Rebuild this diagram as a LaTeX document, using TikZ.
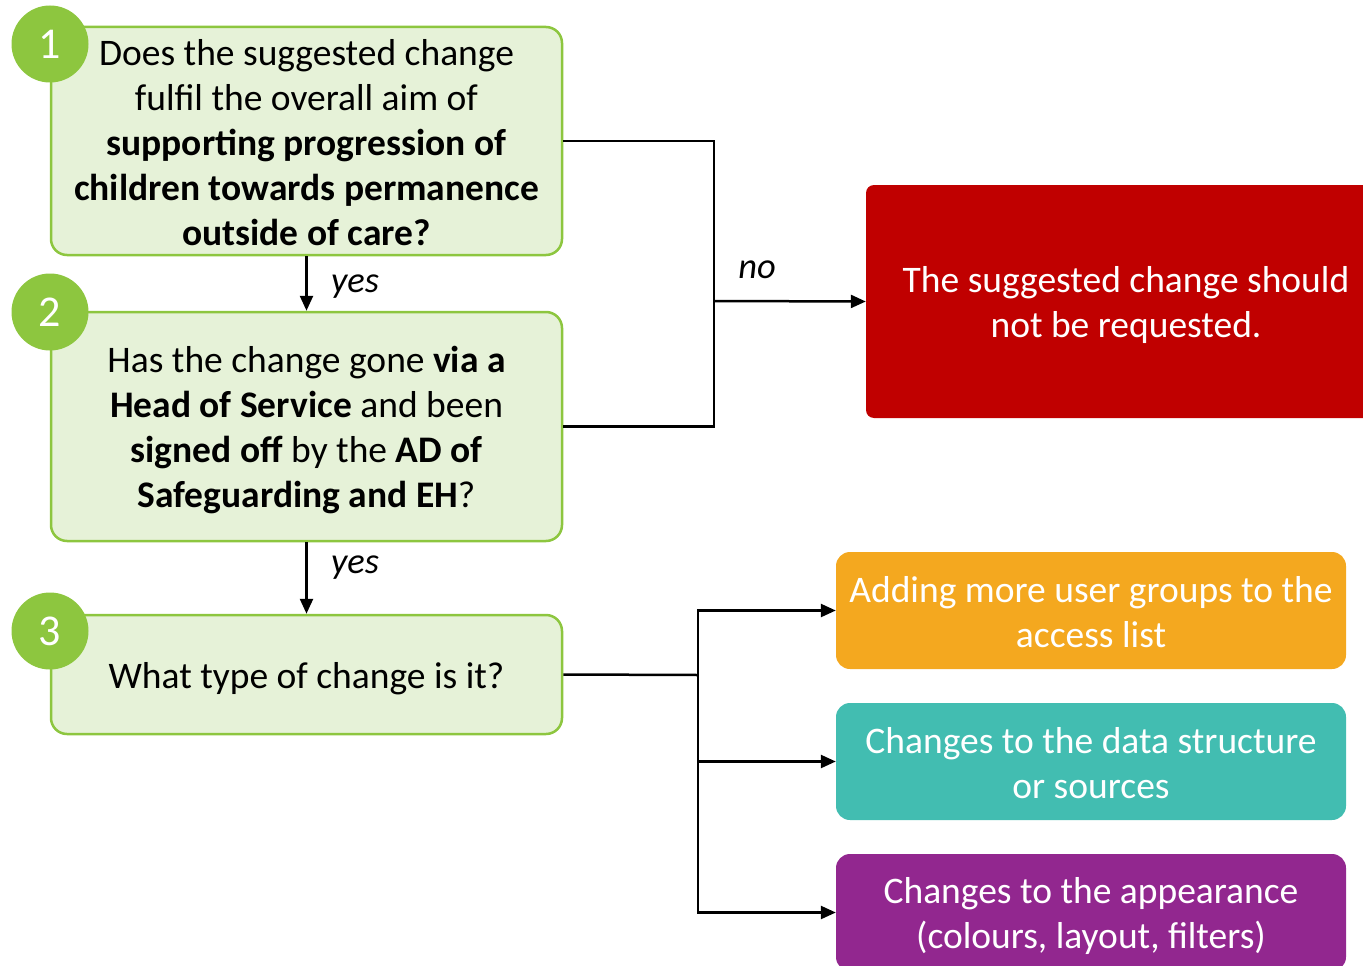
\documentclass[tikz,border=0pt]{standalone}
\usepackage{fontspec}
\setmainfont{Carlito}
\usetikzlibrary{arrows.meta}
\definecolor{gfill}{HTML}{E6F2D8}
\definecolor{gline}{HTML}{8DC63F}
\definecolor{gcirc}{HTML}{8DC63F}
\definecolor{redbox}{HTML}{C00000}
\definecolor{orangebox}{HTML}{F4A81F}
\definecolor{tealbox}{HTML}{42BDB1}
\definecolor{purplebox}{HTML}{92278F}
\newcommand{\shiftedtext}[2]{\raisebox{-#1}[\height][\depth]{\begin{tabular}{@{}c@{}}#2\end{tabular}}}
\tikzset{
  qbox/.style={draw=gline, line width=2.5pt, fill=gfill, rounded corners=16pt, minimum width=511pt, inner sep=0pt, font=\fontsize{37.5}{45}\selectfont},
  numcirc/.style={circle, fill=gcirc, minimum size=77pt, inner sep=0pt, text=white, font=\fontsize{44}{44}\selectfont},
  outbox/.style={rounded corners=14pt, minimum width=510pt, minimum height=117pt, inner sep=0pt, text=white, font=\fontsize{37.5}{45}\selectfont},
  conn/.style={line width=2.5pt, draw=black},
  arr/.style={conn, -{Triangle[length=15pt,width=13pt]}},
  lbl/.style={font=\fontsize{36.5}{40}\selectfont\itshape}
}
\begin{document}
\begin{tikzpicture}[x=1pt,y=-1pt]
\useasboundingbox (0,0) rectangle (1363,966);
\clip (0,0) rectangle (1363,966);
% question boxes
\node[qbox, minimum height=228pt] (q1) at (306.5,141) {\shiftedtext{5pt}{Does the suggested change\\fulfil the overall aim of\\\textbf{supporting progression of}\\\textbf{children towards permanence}\\\textbf{outside of care?}}};
\node[qbox, minimum height=229pt] (q2) at (306.5,426.5) {\shiftedtext{4pt}{Has the change gone \textbf{via a}\\\textbf{Head of Service} and been\\\textbf{signed off} by the \textbf{AD of}\\\textbf{Safeguarding and EH}?}};
\node[qbox, minimum height=119pt] (q3) at (306.5,674.5) {\shiftedtext{4.5pt}{What type of change is it?}};
\node[numcirc] (c1) at (50,44) {1};
\node[numcirc] (c2) at (50,312) {2};
\node[numcirc] (c3) at (50,631) {3};
% outcome boxes
\node[outbox, fill=redbox, rounded corners=8pt, minimum width=520pt, minimum height=233pt] (red) at (1126,301.5) {\shiftedtext{4pt}{The suggested change should\\not be requested.}};
\node[outbox, fill=orangebox] (o1) at (1091,610.5) {\shiftedtext{5.5pt}{Adding more user groups to the\\access list}};
\node[outbox, fill=tealbox] (o2) at (1091,761.5) {\shiftedtext{5pt}{Changes to the data structure\\or sources}};
\node[outbox, fill=purplebox] (o3) at (1091,912.5) {\shiftedtext{4pt}{Changes to the appearance\\(colours, layout, filters)}};
% connectors
\coordinate (nj) at (714,301);
\coordinate (tj) at (698,675);
\draw[conn] (q1.east) -| (nj);
\draw[conn] (q2.east) -| (nj);
\draw[arr] (nj) -- (red.west);
\node[lbl] (no) at (757,270) {no};
\draw[arr] (q1.south) -- (q2.north);
\node[lbl] (y1) at (355,287) {yes};
\draw[arr] (q2.south) -- (q3.north);
\node[lbl] (y2) at (355,568) {yes};
\draw[conn] (q3.east) -- (tj);
\draw[arr] (tj) |- (o1.west);
\draw[arr] (tj) |- (o2.west);
\draw[arr] (tj) |- (o3.west);
\end{tikzpicture}
\end{document}
